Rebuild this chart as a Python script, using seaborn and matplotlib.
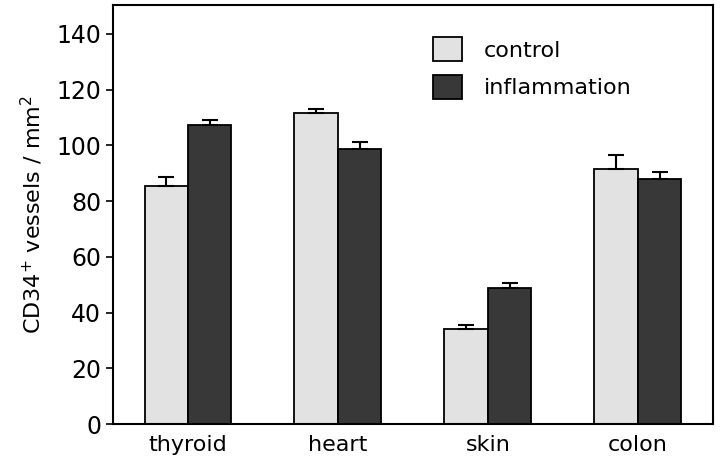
import pandas as pd
import matplotlib.pyplot as plt
import seaborn as sns
import numpy as np

sns.set_theme(style="white")
plt.rcParams['font.family'] = ['DejaVu Sans']
plt.rcParams['text.color'] = 'black'
plt.rcParams['axes.labelcolor'] = 'black'
plt.rcParams['xtick.color'] = 'black'
plt.rcParams['ytick.color'] = 'black'

tissues = ["thyroid", "heart", "skin", "colon"]
control = [85.6, 111.5, 34.2, 91.4]
control_err = [3.0, 1.5, 1.5, 5.0]
inflammation = [107.2, 98.6, 48.9, 87.8]
inflammation_err = [1.8, 2.5, 1.8, 2.8]

df = pd.DataFrame({
    "tissue": tissues * 2,
    "value": control + inflammation,
    "err": control_err + inflammation_err,
    "group": ["control"] * 4 + ["inflammation"] * 4,
})

fig, ax = plt.subplots(figsize=(7.2, 4.66), dpi=100)
sns.barplot(data=df, x="tissue", y="value", hue="group", order=tissues,
            hue_order=["control", "inflammation"],
            palette=["#e2e2e2", "#383838"], errorbar=None, width=0.58,
            edgecolor="black", linewidth=1.3, ax=ax)

# upward-only error bars, placed from the drawn bars
for patch, (_, row) in zip(ax.patches, df.iterrows()):
    xc = patch.get_x() + patch.get_width() / 2
    ax.errorbar(xc, patch.get_height(), yerr=[[0], [row["err"]]], fmt="none",
                ecolor="black", elinewidth=1.5, capsize=6, capthick=1.5)

ax.set_ylim(0, 150.5)
ax.set_xlim(-0.5, 3.5)
ax.set_yticks(np.arange(0, 141, 20))
ax.set_xlabel("")
ax.set_ylabel("CD34$^{+}$ vessels / mm$^{2}$", fontsize=16, labelpad=8)
ax.tick_params(axis="y", labelsize=17, length=5, width=1.2, direction="out", left=True)
ax.tick_params(axis="x", labelsize=16, length=0, pad=8)
for s in ax.spines.values():
    s.set_linewidth(1.5)
    s.set_color("black")

ax.legend(loc="upper left", bbox_to_anchor=(0.5, 0.97), frameon=False,
          fontsize=16, handlelength=1.3, handleheight=1.3, labelspacing=0.6,
          handletextpad=1.0)

plt.subplots_adjust(left=0.157, right=0.99, top=0.99, bottom=0.09)
plt.savefig("out.png", dpi=100)
